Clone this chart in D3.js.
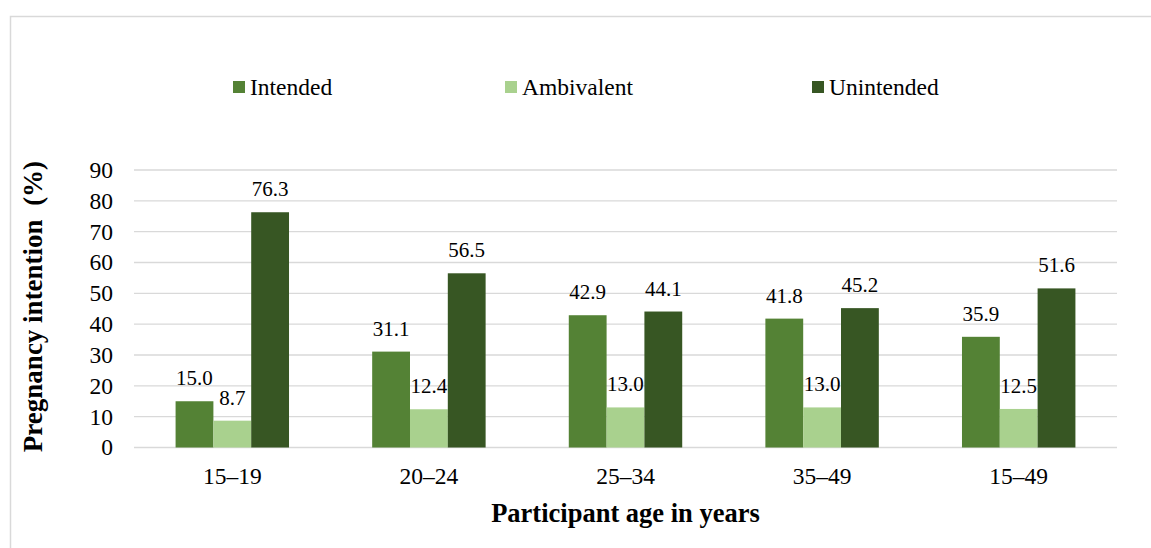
<!DOCTYPE html>
<html>
<head>
<meta charset="utf-8">
<script src="https://cdn.jsdelivr.net/npm/d3@7"></script>
<style>
  html, body { margin: 0; padding: 0; background: #fff; }
  svg { display: block; }
  text { font-family: "Liberation Serif", "Times New Roman", serif; fill: #000; }
</style>
</head>
<body>
<svg id="chart" width="1151" height="548"></svg>
<script>
const categories = ["15–19", "20–24", "25–34", "35–49", "15–49"];
const seriesNames = ["Intended", "Ambivalent", "Unintended"];
const intended   = [15.0, 31.1, 42.9, 41.8, 35.9];
const ambivalent = [8.7, 12.4, 13.0, 13.0, 12.5];
const unintended = [76.3, 56.5, 44.1, 45.2, 51.6];
const yTicks = [0, 10, 20, 30, 40, 50, 60, 70, 80, 90];
const colors = ["#548235", "#a9d18e", "#375623"];

(function () {
const seriesValues = [intended, ambivalent, unintended];
const data = categories.map((c, i) => ({
  cat: c,
  vals: seriesNames.map((s, j) => ({ key: s, value: seriesValues[j][i], color: colors[j] }))
}));

const svg = d3.select("#chart");

// outer frame
svg.append("rect")
  .attr("x", 10.5).attr("y", 16.5)
  .attr("width", 1300).attr("height", 700)
  .attr("fill", "none").attr("stroke", "#d9d9d9").attr("stroke-width", 1.5);

const plotLeft = 134, plotRight = 1117, plotTop = 170, plotBottom = 447.5;

const y = d3.scaleLinear().domain([0, 90]).range([plotBottom, plotTop]);
const x0 = d3.scaleBand().domain(categories).range([plotLeft, plotRight])
  .paddingInner(0.423).paddingOuter(0.2115);
const x1 = d3.scaleBand().domain(seriesNames).range([0, x0.bandwidth()]).padding(0);

// gridlines
svg.append("g").selectAll("line").data(yTicks).join("line")
  .attr("x1", plotLeft).attr("x2", plotRight)
  .attr("y1", d => y(d)).attr("y2", d => y(d))
  .attr("stroke", "#d9d9d9").attr("stroke-width", 1.3);

// y tick labels
svg.append("g").selectAll("text").data(yTicks).join("text")
  .attr("x", 113).attr("y", d => y(d))
  .attr("dy", "0.34em")
  .attr("text-anchor", "end")
  .style("font-size", "23.5px")
  .text(d => d);

// bars
const groups = svg.append("g").selectAll("g").data(data).join("g")
  .attr("transform", d => `translate(${x0(d.cat)},0)`);

groups.selectAll("rect").data(d => d.vals).join("rect")
  .attr("x", d => x1(d.key))
  .attr("y", d => y(d.value))
  .attr("width", x1.bandwidth())
  .attr("height", d => y(0) - y(d.value))
  .attr("fill", d => d.color);

groups.selectAll("text").data(d => d.vals).join("text")
  .attr("x", d => x1(d.key) + x1.bandwidth() / 2)
  .attr("y", d => y(d.value) - 16)
  .attr("text-anchor", "middle")
  .style("font-size", "21px")
  .text(d => d.value.toFixed(1));

// category labels
svg.append("g").selectAll("text").data(categories).join("text")
  .attr("x", d => x0(d) + x0.bandwidth() / 2)
  .attr("y", 484)
  .attr("text-anchor", "middle")
  .style("font-size", "23.5px")
  .text(d => d);

// axis titles
svg.append("text")
  .attr("x", 625.5).attr("y", 521.5)
  .attr("text-anchor", "middle")
  .style("font-size", "26.5px").style("font-weight", "bold")
  .text("Participant age in years");

svg.append("text")
  .attr("transform", "translate(42,306.5) rotate(-90)")
  .attr("text-anchor", "middle")
  .style("font-size", "27px").style("font-weight", "bold")
  .style("white-space", "pre")
  .text("Pregnancy intention  (%)");

// legend
const legendX = [233, 505, 812];
const legend = svg.append("g").selectAll("g").data(seriesNames).join("g")
  .attr("transform", (d, i) => `translate(${legendX[i]},81)`);
legend.append("rect")
  .attr("width", 12).attr("height", 12)
  .attr("fill", (d, i) => colors[i]);
legend.append("text")
  .attr("x", 17).attr("y", 14)
  .style("font-size", "23.5px")
  .text(d => d);
})();
</script>
</body>
</html>
